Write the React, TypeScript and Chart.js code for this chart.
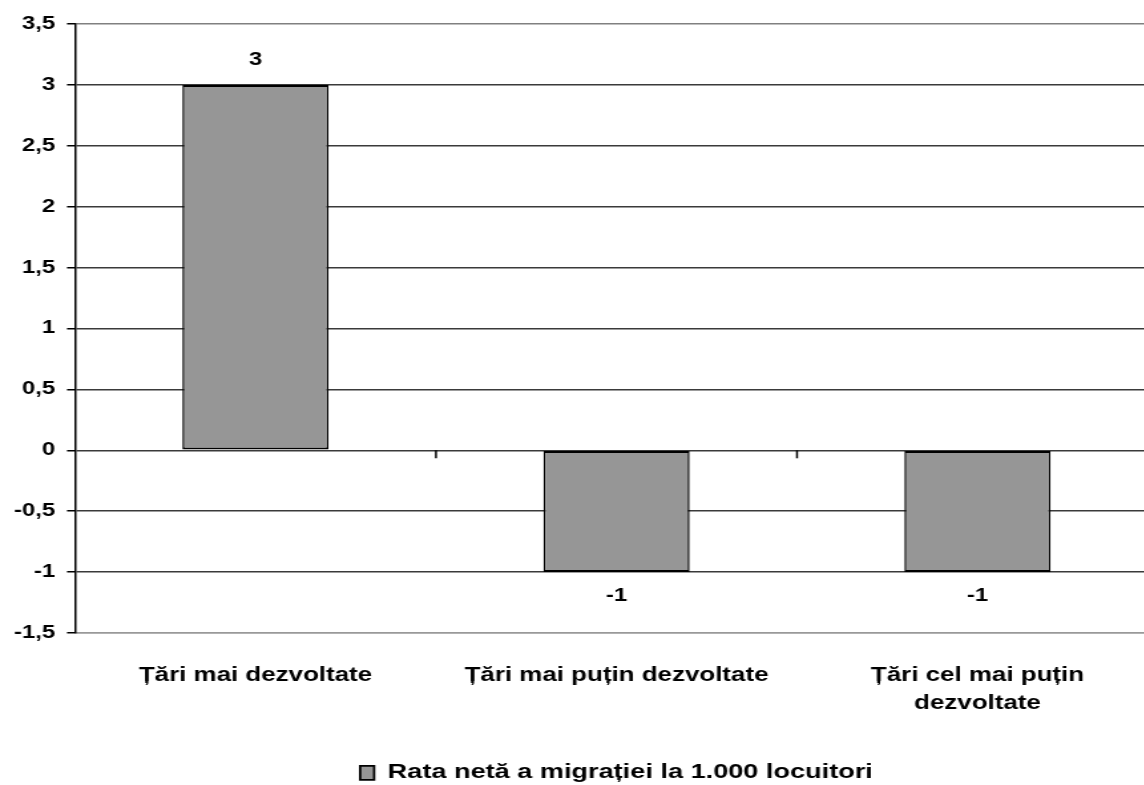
import React, { useEffect, useRef } from "react";
import { Chart, registerables } from "chart.js";

Chart.register(...registerables);

const categories: (string | string[])[] = [
  "Țări mai dezvoltate",
  "Țări mai puțin dezvoltate",
  ["Țări cel mai puțin", "dezvoltate"],
];
const seriesLabel = "Rata netă a migrației la 1.000 locuitori";
const migrationRate = [3, -1, -1];
const valueLabels = ["3", "-1", "-1"];
const yTickMin = -1.5;
const yTickMax = 3.5;
const yTickStep = 0.5;

const FONT = "'Liberation Sans', Arial, sans-serif";

// The chart is drawn on a narrower canvas and widened with a horizontal
// CSS stretch, which gives the broad, wide-set lettering.
const STRETCH = 1.3295;
const CANVAS_W = 871;
const CANVAS_H = 793;

// Small downward tick marks on the zero line at category boundaries,
// plus the value labels above/below each bar.
const extrasPlugin = {
  id: "extras",
  afterDatasetsDraw(chart: any) {
    const { ctx, scales } = chart;
    const x = scales.x;
    const y = scales.y;
    const zeroY = y.getPixelForValue(0);
    ctx.save();
    ctx.strokeStyle = "#000";
    ctx.lineWidth = 1.5;
    for (let i = 0; i < categories.length - 1; i++) {
      const bx = (x.getPixelForValue(i) + x.getPixelForValue(i + 1)) / 2;
      ctx.beginPath();
      ctx.moveTo(bx, zeroY);
      ctx.lineTo(bx, zeroY + 8);
      ctx.stroke();
    }
    const meta = chart.getDatasetMeta(0);
    ctx.fillStyle = "#000";
    ctx.font = `bold 18px ${FONT}`;
    ctx.textAlign = "center";
    ctx.textBaseline = "middle";
    meta.data.forEach((bar: any, i: number) => {
      const v = migrationRate[i];
      const py = y.getPixelForValue(v);
      const ly = v >= 0 ? py - 25 : py + 24;
      ctx.fillText(valueLabels[i], bar.x, ly);
    });
    ctx.restore();
  },
};

export default function App() {
  const canvasRef = useRef<HTMLCanvasElement | null>(null);

  useEffect(() => {
    if (!canvasRef.current) return;
    const chart = new Chart(canvasRef.current, {
      type: "bar",
      data: {
        labels: categories,
        datasets: [
          {
            label: seriesLabel,
            data: migrationRate,
            backgroundColor: "#969696",
            borderColor: "#000",
            borderWidth: { top: 2, bottom: 2, left: 1.5, right: 1.5 },
            borderSkipped: false,
            categoryPercentage: 1,
            barPercentage: 0.405,
          },
        ],
      },
      options: {
        responsive: false,
        animation: false,
        devicePixelRatio: 1,
        layout: { padding: { top: 24, bottom: 0, right: 0, left: 0 } },
        plugins: {
          tooltip: { enabled: false },
          legend: {
            position: "bottom",
            fullSize: false,
            labels: {
              color: "#000",
              font: { family: FONT, size: 20.4, weight: "bold" },
              boxWidth: 10.5,
              boxHeight: 14,
              padding: 0,
            },
          },
        },
        scales: {
          x: {
            grid: { display: false },
            border: { display: true, color: "#999", width: 1.5 },
            ticks: {
              color: "#000",
              padding: 20,
              maxRotation: 0,
              autoSkip: false,
              font: { family: FONT, size: 19.5, weight: "bold", lineHeight: 1.46 },
            },
            afterFit(scale: any) {
              scale.height = 129.6;
            },
          },
          y: {
            min: yTickMin,
            max: yTickMax,
            ticks: {
              stepSize: yTickStep,
              color: "#000",
              padding: 9,
              font: { family: FONT, size: 18, weight: "bold" },
              callback: (v: any) => String(v).replace(".", ","),
            },
            grid: {
              color: (c: any) =>
                c.tick && c.tick.value === yTickMax
                  ? "#808080"
                  : c.tick && c.tick.value === yTickMin
                  ? "#999"
                  : "#3a3a3a",
              lineWidth: 1.5,
              tickLength: 6,
              tickColor: "#000",
            },
            border: { display: true, color: "#000", width: 1.5 },
            afterFit(scale: any) {
              scale.width = 56.4;
            },
          },
        },
      },
      plugins: [extrasPlugin],
    });
    return () => chart.destroy();
  }, []);

  return (
    <div
      style={{
        position: "fixed",
        left: 0,
        top: 0,
        width: 1144,
        height: 785,
        overflow: "hidden",
        background: "#fff",
      }}
    >
      <canvas
        ref={canvasRef}
        width={CANVAS_W}
        height={CANVAS_H}
        style={{
          display: "block",
          width: CANVAS_W,
          height: CANVAS_H,
          transform: `scaleX(${STRETCH})`,
          transformOrigin: "0 0",
        }}
      />
    </div>
  );
}
